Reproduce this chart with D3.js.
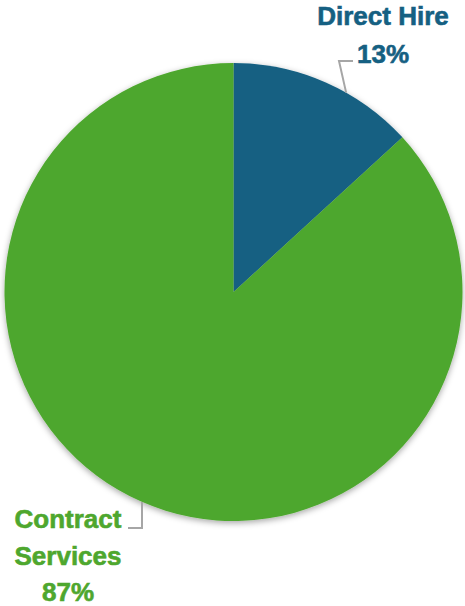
<!DOCTYPE html>
<html>
<head>
<meta charset="utf-8">
<script src="https://cdn.jsdelivr.net/npm/d3@7"></script>
<style>
  body { margin: 0; background: #fff; }
  text { font-family: "Liberation Sans", Arial, sans-serif; font-weight: bold; }
</style>
</head>
<body>
<div id="chart"></div>
<script>
// data
var categories = ["Direct Hire", "Contract Services"];
var values = [13.2, 86.8];
var pctLabels = ["13%", "87%"];
var colors = ["#156082", "#4EA72E"];

var svgWidth = 465;
var svgHeight = 606;
var cx = 233.5, cy = 292, radius = 229;

var svg = d3.select("#chart")
    .append("svg")
    .attr("width", svgWidth)
    .attr("height", svgHeight);

// soft shadow round the pie
var defs = svg.append("defs");
var filter = defs.append("filter")
    .attr("id", "shadow")
    .attr("x", "-10%").attr("y", "-10%")
    .attr("width", "120%").attr("height", "120%");
filter.append("feDropShadow")
    .attr("dx", 0).attr("dy", 2)
    .attr("stdDeviation", 3)
    .attr("flood-color", "#000")
    .attr("flood-opacity", 0.35);

var pieGroup = svg.append("g")
    .attr("transform", `translate(${cx}, ${cy})`)
    .attr("filter", "url(#shadow)");

var pie = d3.pie().sort(null);
var arcs = pie(values);
var arc = d3.arc().innerRadius(0).outerRadius(radius);

pieGroup.selectAll("path")
    .data(arcs)
    .enter()
    .append("path")
    .attr("d", arc)
    .attr("fill", (d, i) => colors[i]);

// leader lines (relative to pie centre)
var lineGroup = svg.append("g")
    .attr("transform", `translate(${cx}, ${cy})`)
    .attr("fill", "none")
    .attr("stroke", "#A6A6A6")
    .attr("stroke-width", 2);

// direct hire: edge point, elbow, end
var a0 = arcs[0].startAngle + (arcs[0].endAngle - arcs[0].startAngle) * 0.62;
var p0 = [radius * Math.sin(a0), -radius * Math.cos(a0)];
lineGroup.append("polyline")
    .attr("points", [p0, [339 - cx, 61 - cy], [353 - cx, 61 - cy]].map(p => p.join(",")).join(" "));

// contract services
var xC = 142 - cx;
var yC = Math.sqrt(radius * radius - xC * xC);
lineGroup.append("polyline")
    .attr("points", [[xC, yC], [xC, 528 - cy], [128 - cx, 528 - cy]].map(p => p.join(",")).join(" "));

// labels
var labelInfo = [
    { lines: ["Direct Hire", pctLabels[0]], x: 383, y: [25, 63] },
    { lines: ["Contract", "Services", pctLabels[1]], x: 68, y: [528, 565, 601] }
];

labelInfo.forEach(function(lab, i) {
    lab.lines.forEach(function(t, j) {
        svg.append("text")
            .attr("x", lab.x)
            .attr("y", lab.y[j])
            .attr("text-anchor", "middle")
            .attr("font-size", 26)
            .attr("fill", colors[i])
            .attr("stroke", colors[i])
            .attr("stroke-width", 0.6)
            .text(t);
    });
});
</script>
</body>
</html>
